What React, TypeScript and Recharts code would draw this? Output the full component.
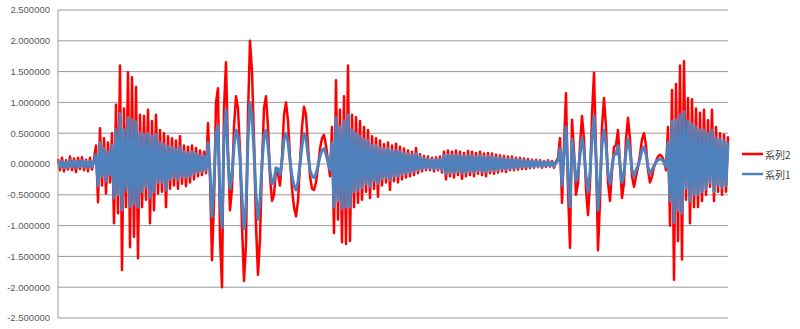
import { LineChart, Line, XAxis, YAxis, CartesianGrid } from "recharts";

// 系列2 (red) in stretches, left to right
const redLead = [0.08, -0.1, 0.1, -0.12, 0.06, -0.09, 0.12, -0.1, 0.09, -0.13, 0.1, -0.08, 0.11, -0.1, 0.07, -0.12, 0.1, -0.09, 0.08];
const redBurst1 = [
  0.3, -0.62, 0.58, -0.35, 0.42, -0.48, 0.35, -0.3, 0.5, -0.96, 0.96, -0.8, 1.6, -1.72, 0.9, -0.7,
  1.49, -1.35, 1.41, -1.18, 1.25, -1.53, 0.8, -0.7, 0.78, -0.58, 0.88, -0.96, 0.7, -0.75, 0.8, -0.48,
  0.55, -0.45, 0.5, -0.7, 0.45, -0.4, 0.42, -0.35, 0.38, -0.4, 0.45, -0.32, 0.3, -0.36, 0.28, -0.3,
  0.3, -0.25, 0.26, -0.2, 0.22, -0.18, 0.2, -0.15,
];
const redWave1 = [
  0.66, -0.2, -1.56, -0.6, 1.0, 1.23, -1.2, -2.0, 0.9, 1.65, 0.2, -0.75, -0.4, 0.6, 1.1, 0.9,
  0.2, -1.0, -1.9, -1.3, 0.8, 2.0, 1.5, 0.4, -1.0, -1.8, -1.2, 0.0, 0.9, 1.1, 0.6, -0.2,
  -0.6, -0.5, -0.1, -0.15, -0.35, 0.1, 0.8, 1.0, 0.7, 0.1, -0.4, -0.7, -0.85, -0.6, 0.0, 0.6,
  0.93, 0.8, 0.3, -0.2, -0.4, -0.42, -0.3, -0.05, 0.25, 0.42, 0.47, 0.3, 0.05, -0.2,
];
const redBurst2 = [
  0.6, -1.12, 1.36, -0.9, 0.88, -1.27, 1.1, -1.3, 1.6, -1.25, 0.8, -0.7, 0.76, -0.63, 0.7, -0.58,
  0.6, -0.45, 0.55, -0.55, 0.45, -0.4, 0.42, -0.53, 0.38, -0.35, 0.32, -0.3, 0.35, -0.42, 0.3, -0.28,
  0.33, -0.3, 0.28, -0.25, 0.25, -0.22, 0.22, -0.2, 0.2, -0.18, 0.26, -0.15, 0.16,
];
const redQuiet = [
  -0.12, 0.13, -0.1, 0.12, -0.1, 0.1, -0.12, 0.11, -0.1, 0.12, -0.14, 0.2, -0.25, 0.22, -0.2, 0.2,
  -0.22, 0.22, -0.18, 0.2, -0.24, 0.18, -0.2, 0.21, -0.18, 0.2, -0.2, 0.18, -0.16, 0.2, -0.18, 0.17,
  -0.2, 0.18, -0.15, 0.17, -0.16, 0.15, -0.14, 0.14, -0.12, 0.13, -0.13, 0.12, -0.1, 0.12, -0.1, 0.1,
  -0.09, 0.1, -0.08, 0.09, -0.08, 0.08, -0.07, 0.07, -0.06, 0.07, -0.05, 0.06, -0.06, 0.05, -0.05, 0.06,
  -0.04, 0.05, -0.06, 0.04,
];
const redWave2 = [
  0.1, 0.42, -0.63, 0.3, 1.15, -0.4, -1.36, 0.72, 0.2, -0.5, -0.3, 0.3, 0.78, 0.4, -0.4, -0.83,
  -0.3, 0.8, 1.48, 0.2, -1.4, -0.6, 0.6, 1.07, 0.6, -0.3, -0.6, -0.1, 0.28, 0.3, 0.55, 0.0,
  -0.55, -0.3, 0.4, 0.75, 0.4, -0.2, -0.37, -0.2, -0.05, 0.15, 0.4, 0.5, 0.3, -0.1, -0.3, -0.2,
  -0.05, 0.05, 0.12, 0.15, 0.12, 0.05, -0.1,
];
const redBurst3 = [
  0.6, -1.0, 1.2, -1.88, 1.3, -1.25, 1.6, -1.55, 1.67, -0.58, 1.07, -0.96, 1.05, -0.7, 0.9, -0.7,
  0.83, -0.6, 0.88, -0.5, 0.71, -0.37, 0.88, -0.6, 0.6, -0.45, 0.5, -0.5, 0.48, -0.45, 0.45,
];

// 系列1 (blue)
const blueLead = [0.04, -0.05, 0.05, -0.06, 0.03, -0.05, 0.06, -0.05, 0.05, -0.06, 0.05, -0.04, 0.06, -0.05, 0.04, -0.06, 0.05, -0.05, 0.04];
const blueBurst1 = [
  0.15, -0.35, 0.35, -0.2, 0.25, -0.28, 0.2, -0.18, 0.3, -0.55, 0.55, -0.5, 0.82, -0.75, 0.55, -0.42,
  0.75, -0.7, 0.72, -0.65, 0.68, -0.7, 0.5, -0.45, 0.48, -0.38, 0.5, -0.55, 0.45, -0.45, 0.48, -0.3,
  0.35, -0.3, 0.32, -0.42, 0.28, -0.25, 0.27, -0.22, 0.24, -0.25, 0.28, -0.2, 0.2, -0.22, 0.18, -0.2,
  0.2, -0.16, 0.17, -0.13, 0.14, -0.12, 0.13, -0.1,
];
const blueWave1 = [
  0.35, -0.1, -0.86, -0.3, 0.5, 0.62, -0.6, -1.03, 0.45, 0.88, 0.1, -0.4, -0.2, 0.3, 0.55, 0.45,
  0.1, -0.55, -1.05, -0.7, 0.4, 1.0, 0.78, 0.2, -0.5, -0.9, -0.6, 0.0, 0.45, 0.55, 0.3, -0.1,
  -0.32, -0.28, -0.06, -0.08, -0.18, 0.05, 0.4, 0.5, 0.36, 0.05, -0.2, -0.35, -0.42, -0.3, 0.0, 0.3,
  0.5, 0.42, 0.15, -0.1, -0.2, -0.22, -0.16, -0.03, 0.13, 0.22, 0.25, 0.16, 0.03, -0.1,
];
const blueBurst2 = [
  0.35, -0.7, 0.75, -0.6, 0.6, -0.72, 0.7, -0.7, 0.8, -0.7, 0.55, -0.45, 0.5, -0.42, 0.45, -0.38,
  0.4, -0.32, 0.38, -0.36, 0.3, -0.28, 0.3, -0.32, 0.26, -0.24, 0.24, -0.22, 0.25, -0.26, 0.22, -0.2,
  0.22, -0.2, 0.2, -0.17, 0.18, -0.15, 0.16, -0.14, 0.15, -0.12, 0.17, -0.1, 0.12,
];
const blueQuiet = [
  -0.08, 0.09, -0.07, 0.08, -0.07, 0.07, -0.08, 0.08, -0.07, 0.08, -0.1, 0.14, -0.16, 0.15, -0.14, 0.14,
  -0.15, 0.15, -0.12, 0.14, -0.15, 0.13, -0.14, 0.14, -0.12, 0.14, -0.14, 0.12, -0.11, 0.14, -0.12, 0.12,
  -0.13, 0.12, -0.1, 0.12, -0.11, 0.1, -0.1, 0.1, -0.08, 0.09, -0.09, 0.08, -0.07, 0.08, -0.07, 0.07,
  -0.06, 0.07, -0.05, 0.06, -0.05, 0.05, -0.05, 0.05, -0.04, 0.05, -0.04, 0.04, -0.04, 0.04, -0.03, 0.04,
  -0.03, 0.03, -0.04, 0.03,
];
const blueWave2 = [
  0.05, 0.25, -0.35, 0.18, 0.6, -0.2, -0.7, 0.4, 0.1, -0.28, -0.16, 0.15, 0.42, 0.22, -0.2, -0.45,
  -0.15, 0.42, 0.78, 0.1, -0.75, -0.3, 0.32, 0.55, 0.32, -0.16, -0.32, -0.05, 0.15, 0.16, 0.3, 0.0,
  -0.3, -0.16, 0.2, 0.4, 0.22, -0.1, -0.2, -0.1, -0.03, 0.08, 0.22, 0.28, 0.16, -0.05, -0.16, -0.1,
  -0.03, 0.03, 0.07, 0.08, 0.07, 0.03, -0.05,
];
const blueBurst3 = [
  0.35, -0.6, 0.7, -0.95, 0.72, -0.75, 0.8, -0.8, 0.85, -0.4, 0.7, -0.6, 0.65, -0.5, 0.6, -0.5,
  0.55, -0.45, 0.55, -0.4, 0.5, -0.3, 0.55, -0.45, 0.42, -0.35, 0.4, -0.38, 0.38, -0.35, 0.35,
];

const series2 = [...redLead, ...redBurst1, ...redWave1, ...redBurst2, ...redQuiet, ...redWave2, ...redBurst3];
const series1 = [...blueLead, ...blueBurst1, ...blueWave1, ...blueBurst2, ...blueQuiet, ...blueWave2, ...blueBurst3];

const yTicks = [-2.5, -2, -1.5, -1, -0.5, 0, 0.5, 1, 1.5, 2, 2.5];
const seriesNames = ["系列1", "系列2"];
const seriesColors = ["#4f81bd", "#ff0000"];

const data = series1.map((v, i) => ({ i, s1: v, s2: series2[i] }));

function LegendBox() {
  // Excel lists 系列2 above 系列1
  const order = [1, 0];
  return (
    <div
      style={{
        position: "absolute",
        left: 742,
        top: 144,
        fontFamily: "'Noto Sans CJK JP', sans-serif",
        fontSize: 10,
        color: "#404040",
      }}
    >
      {order.map((k) => (
        <div key={k} style={{ display: "flex", alignItems: "center", height: 20 }}>
          <svg width={22} height={6} style={{ marginRight: 1 }}>
            <line x1={0} y1={3} x2={21} y2={3} stroke={seriesColors[k]} strokeWidth={2.5} />
          </svg>
          <span>{seriesNames[k]}</span>
        </div>
      ))}
    </div>
  );
}

export default function App() {
  return (
    <div style={{ position: "absolute", left: 0, top: 0, width: 800, height: 329, background: "#fff" }}>
      <LineChart width={800} height={329} data={data} margin={{ top: 10, right: 72, bottom: 11, left: 0 }}>
        <CartesianGrid vertical={false} stroke="#9a9a9a" />
        <XAxis dataKey="i" type="number" domain={[0, series1.length - 1]} hide />
        <YAxis
          width={58}
          domain={[-2.5, 2.5]}
          ticks={yTicks}
          tickFormatter={(v: number) => v.toFixed(6)}
          tick={{ fontFamily: "'Liberation Sans', sans-serif", fontSize: 9.5, fill: "#595959" }}
          tickLine={false}
          axisLine={{ stroke: "#9a9a9a" }}
        />
        <Line dataKey="s2" name={seriesNames[1]} stroke={seriesColors[1]} strokeWidth={2.5} strokeLinejoin="round" dot={false} isAnimationActive={false} />
        <Line dataKey="s1" name={seriesNames[0]} stroke={seriesColors[0]} strokeWidth={3} strokeLinejoin="round" dot={false} isAnimationActive={false} />
      </LineChart>
      <LegendBox />
    </div>
  );
}
